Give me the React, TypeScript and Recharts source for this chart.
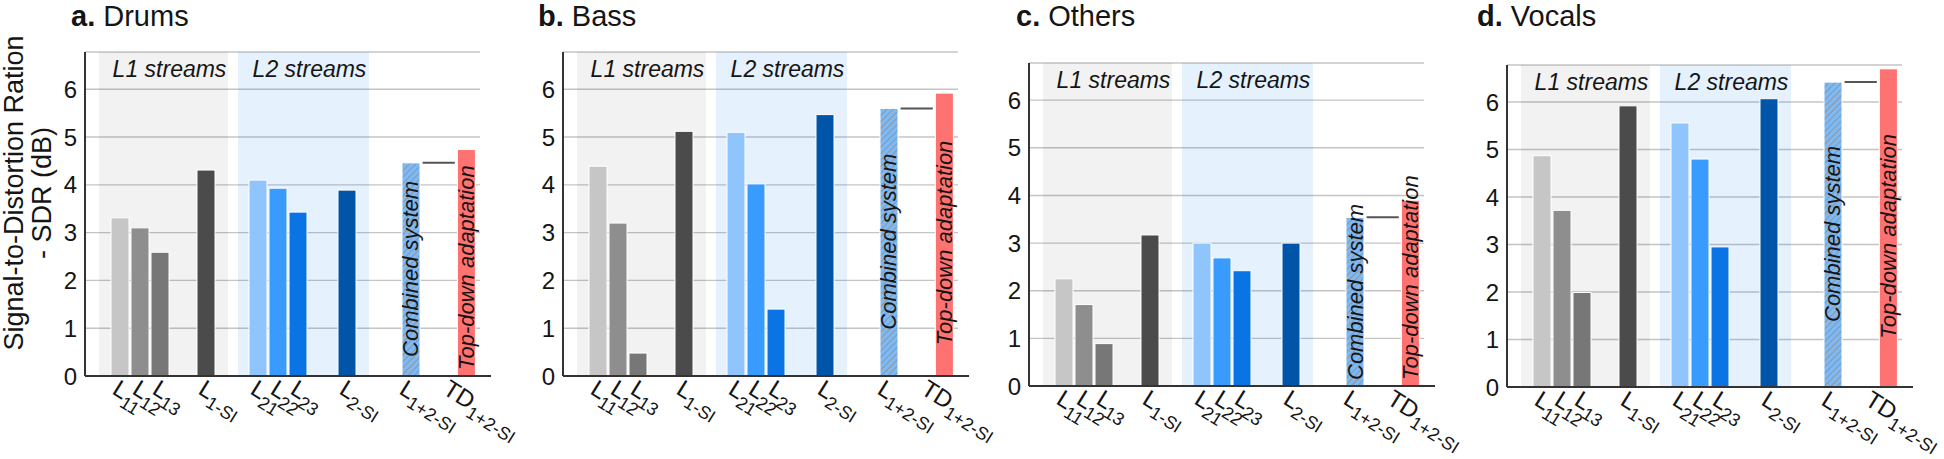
import React from 'react';
import {
  Bar,
  BarChart,
  CartesianGrid,
  ReferenceArea,
  ReferenceLine,
  XAxis,
  YAxis,
} from 'recharts';

const FONT = 'Arial, "Liberation Sans", Helvetica, sans-serif';
const INK = '#151515';

// categories and their rotated tick labels (main letter + subscript)
const categories = ['L11', 'L12', 'L13', 'L1-SI', 'L21', 'L22', 'L23', 'L2-SI', 'L1+2-SI', 'TD1+2-SI'];
const tickMain = ['L', 'L', 'L', 'L', 'L', 'L', 'L', 'L', 'L', 'TD'];
const tickSub = ['11', '12', '13', '1-SI', '21', '22', '23', '2-SI', '1+2-SI', '1+2-SI'];
const barNotes = ['', '', '', '', '', '', '', '', 'Combined system', 'Top-down adaptation'];

// SDR values (dB)
const drums = [3.31, 3.1, 2.59, 4.31, 4.1, 3.93, 3.43, 3.89, 4.46, 4.74];
const bass = [4.39, 3.2, 0.48, 5.12, 5.1, 4.02, 1.4, 5.47, 5.6, 5.92];
const others = [2.25, 1.71, 0.89, 3.17, 3.0, 2.69, 2.42, 3.0, 3.54, 3.9];
const vocals = [4.87, 3.72, 1.99, 5.92, 5.56, 4.8, 2.95, 6.07, 6.42, 6.7];

const yTicks = [0, 1, 2, 3, 4, 5, 6];
const panelLetters = ['a.', 'b.', 'c.', 'd.'];
const panelNames = ['Drums', 'Bass', 'Others', 'Vocals'];
const panelValues = [drums, bass, others, vocals];
const groupNames = ['L1 streams', 'L2 streams'];

// styling / layout
const barColors = ['#c6c6c6', '#8e8e8e', '#777777', '#4b4b4b', '#8fc4fd', '#3a9bfe', '#0a74e4', '#0055a8', 'hatch', '#ff7272'];
const SLOT_X = [1.75, 2.75, 3.75, 6.05, 8.65, 9.65, 10.65, 13.1, 16.3, 19.07];
const GROUP_SPANS = [
  [0.7, 7.15],
  [7.65, 14.2],
];
const X_MAX = 19.75;
const AXIS_END = 20.3;
const Y_MAX = 6.78;
const BAR_PX = 22;
const PX_PER_UNIT = 20;
const CHART_W = 560;
const CHART_H = 459;
const Y_AXIS_W = 40;
const X_AXIS_H = 60;
const NOTE_FONT = 22;
const PANEL_BOX = [
  { left: 0, axisX: 85, top: 52, zero: 376, titleX: 71 },
  { left: 480, axisX: 563, top: 52, zero: 376, titleX: 538 },
  { left: 960, axisX: 1029, top: 63, zero: 386, titleX: 1016 },
  { left: 1440, axisX: 1507, top: 65, zero: 387, titleX: 1477 },
];

function CatTick({ x, y, payload }: any) {
  const i = SLOT_X.indexOf(payload.value);
  if (i < 0) return null;
  // longer labels start a little further left of their bar
  let shift = 9;
  if (tickSub[i].length > 4) shift = 13;
  if (tickMain[i].length > 1) shift = 25;
  const ax = x - shift;
  const ay = y + 9;
  return (
    <text x={ax} y={ay} transform={`rotate(32 ${ax} ${ay})`} fontFamily={FONT} fill={INK}>
      <tspan fontSize={24}>{tickMain[i]}</tspan>
      <tspan fontSize={18} dy={7}>
        {tickSub[i]}
      </tspan>
    </text>
  );
}

function BarShape(props: any) {
  const { x, y, width, height, payload, panelId } = props;
  const fill = payload.color === 'hatch' ? `url(#hatch-${panelId})` : payload.color;
  const cx = x + width / 2;
  const zeroY = y + height;
  let textBottom = 0;
  if (payload.note) {
    // centre the vertical text in the bar, but keep it off the axis
    const approxLen = payload.note.length * NOTE_FONT * 0.53;
    textBottom = Math.min(y + height / 2 + approxLen / 2, zeroY - 6);
  }
  return (
    <g>
      <rect x={x} y={y} width={width} height={height} fill={fill} stroke="#ffffff" strokeWidth={1} />
      {payload.note ? (
        <text
          x={cx}
          y={textBottom}
          transform={`rotate(-90 ${cx} ${textBottom})`}
          textAnchor="start"
          dominantBaseline="central"
          fontFamily={FONT}
          fontSize={NOTE_FONT}
          fontStyle="italic"
          fill={INK}
        >
          {payload.note}
        </text>
      ) : null}
    </g>
  );
}

const groupLabel = (text: string) => (props: any) => {
  const vb = props.viewBox || {};
  const cx = vb.x + vb.width / 2 + 6;
  return (
    <text x={cx} y={vb.y + 25} textAnchor="middle" fontFamily={FONT} fontSize={23} fontStyle="italic" fill={INK}>
      {text}
    </text>
  );
};

function Panel({ index }: { index: number }) {
  const box = PANEL_BOX[index];
  const values = panelValues[index];
  const rows = categories.map((c, i) => ({
    name: c,
    pos: SLOT_X[i],
    value: values[i],
    color: barColors[i],
    note: barNotes[i],
  }));
  const plotLeft = box.axisX - box.left;
  const margin = {
    top: box.top,
    left: plotLeft - Y_AXIS_W,
    right: CHART_W - plotLeft - X_MAX * PX_PER_UNIT,
    bottom: CHART_H - box.zero - X_AXIS_H,
  };
  const half = BAR_PX / 2 / PX_PER_UNIT + 0.03;
  const combined = values[8];
  return (
    <div style={{ position: 'absolute', left: box.left, top: 0 }}>
      <BarChart width={CHART_W} height={CHART_H} data={rows} margin={margin}>
        <defs>
          <pattern id={`hatch-${index}`} patternUnits="userSpaceOnUse" width={4.5} height={4.5} patternTransform="rotate(45)">
            <rect width={4.5} height={4.5} fill="#7db9f4" />
            <line x1={0} y1={0} x2={0} y2={4.5} stroke="#8f8f8f" strokeWidth={1.6} />
          </pattern>
        </defs>
        <CartesianGrid vertical={false} stroke="#c4c4c4" strokeWidth={1.4} />
        {GROUP_SPANS.map((s, g) => (
          <ReferenceArea
            key={g}
            x1={s[0]}
            x2={s[1]}
            y1={0}
            y2={Y_MAX}
            fill={g === 0 ? '#000000' : '#0a78f0'}
            fillOpacity={g === 0 ? 0.05 : 0.105}
            stroke="none"
            ifOverflow="visible"
            label={groupLabel(groupNames[g])}
          />
        ))}
        <XAxis
          type="number"
          dataKey="pos"
          domain={[0, X_MAX]}
          allowDataOverflow
          ticks={SLOT_X}
          interval={0}
          axisLine={false}
          tickLine={false}
          height={X_AXIS_H}
          tick={<CatTick />}
        />
        <YAxis
          type="number"
          domain={[0, Y_MAX]}
          allowDataOverflow
          ticks={yTicks}
          interval={0}
          width={Y_AXIS_W}
          tickLine={false}
          axisLine={{ stroke: '#333333', strokeWidth: 2 }}
          tick={{ fontSize: 24, fill: INK, fontFamily: FONT }}
        />
        <Bar
          dataKey="value"
          barSize={BAR_PX}
          isAnimationActive={false}
          shape={(p: any) => <BarShape {...p} panelId={index} />}
        />
        <ReferenceLine
          segment={[
            { x: SLOT_X[8] + half, y: combined },
            { x: SLOT_X[9] - half, y: combined },
          ]}
          stroke="#555555"
          strokeWidth={2}
          ifOverflow="visible"
        />
        <ReferenceLine
          segment={[
            { x: 0, y: 0 },
            { x: AXIS_END, y: 0 },
          ]}
          stroke="#333333"
          strokeWidth={2}
          ifOverflow="visible"
        />
      </BarChart>
      <div
        style={{
          position: 'absolute',
          left: box.titleX - box.left,
          top: 0,
          fontFamily: FONT,
          fontSize: 29,
          lineHeight: '33px',
          color: INK,
          whiteSpace: 'nowrap',
        }}
      >
        <b>{panelLetters[index]}</b> {panelNames[index]}
      </div>
    </div>
  );
}

export default function App() {
  return (
    <div
      style={{
        position: 'absolute',
        left: 0,
        top: 0,
        width: 1944,
        height: 459,
        overflow: 'hidden',
        background: '#ffffff',
      }}
    >
      {PANEL_BOX.map((_, i) => (
        <Panel key={i} index={i} />
      ))}
      <svg width={70} height={459} style={{ position: 'absolute', left: 0, top: 0 }}>
        <text x={23} y={193} transform="rotate(-90 23 193)" textAnchor="middle" fontFamily={FONT} fontSize={27} fill={INK}>
          Signal-to-Distortion Ration
        </text>
        <text x={51} y={193} transform="rotate(-90 51 193)" textAnchor="middle" fontFamily={FONT} fontSize={27} fill={INK}>
          - SDR (dB)
        </text>
      </svg>
    </div>
  );
}
